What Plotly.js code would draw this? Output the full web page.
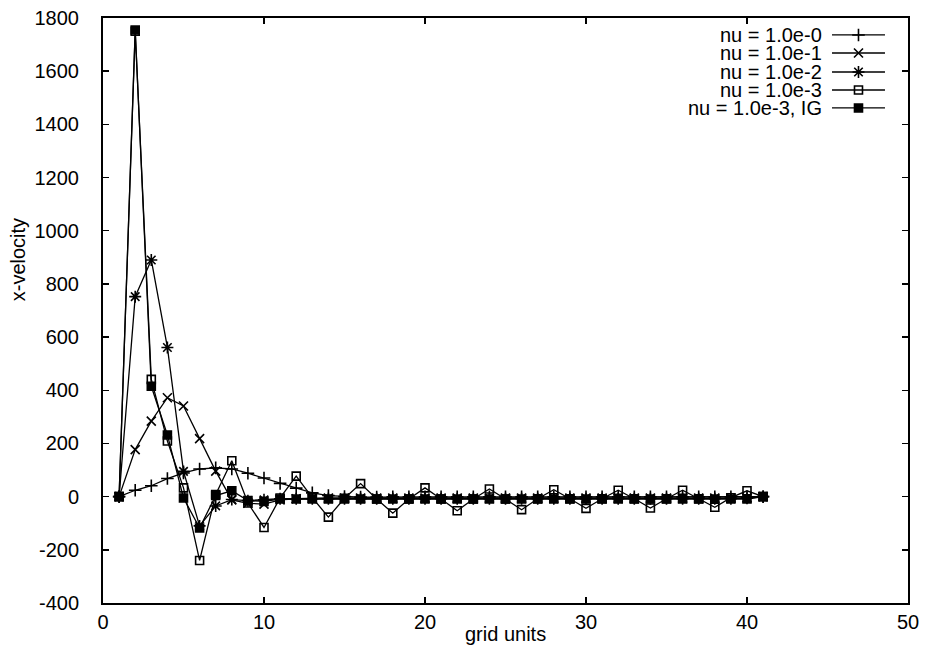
<!DOCTYPE html>
<html>
<head>
<meta charset="utf-8">
<script src="https://cdn.plot.ly/plotly-3.0.1.min.js"></script>
<style>html,body{margin:0;padding:0;background:#fff;}#chart{width:935px;height:651px;}</style>
</head>
<body>
<div id="chart"></div>
<script>
// ---- data ----
const gridUnits = [1,2,3,4,5,6,7,8,9,10,11,12,13,14,15,16,17,18,19,20,21,22,23,24,25,26,27,28,29,30,31,32,33,34,35,36,37,38,39,40,41];
const nu1e0  = [0,24,41,68,89,104,108,104,88,70,50,32,14,4,0,-2,-2,-1,-1,-1,-1,-1,-1,-1,-1,-1,-1,-1,-1,-1,-1,-1,-1,-1,-1,-1,-1,-1,-1,-1,0];
const nu1e1  = [0,177,284,372,341,218,96,-12,-25,-28,-12,-8,-6,-5,-5,-5,-5,-5,-5,-5,-5,-5,-5,-5,-5,-5,-5,-5,-5,-5,-5,-5,-5,-5,-5,-5,-5,-5,-5,-4,0];
const nu1e2  = [0,752,890,561,95,-110,-35,-11,-15,-12,-8,-8,-8,-8,-8,-8,-8,-8,-8,-8,-8,-8,-8,-8,-8,-8,-8,-8,-8,-8,-8,-8,-8,-8,-8,-8,-8,-8,-8,-6,0];
const nu1e3  = [0,1750,441,209,33,-240,8,135,-24,-116,-5,77,-4,-77,-6,49,-9,-62,-9,33,-9,-53,-9,29,-9,-49,-8,26,-8,-44,-8,24,-8,-43,-8,24,-8,-40,-4,22,0];
const nu1e3IG= [0,1755,415,232,-5,-118,4,22,-15,-18,-9,-9,-9,-9,-9,-9,-9,-9,-9,-9,-9,-9,-9,-9,-9,-9,-9,-9,-9,-9,-9,-9,-9,-9,-9,-9,-9,-9,-9,-9,0];
const seriesNames = ["nu = 1.0e-0","nu = 1.0e-1","nu = 1.0e-2","nu = 1.0e-3","nu = 1.0e-3, IG"];
const seriesValues = [nu1e0, nu1e1, nu1e2, nu1e3, nu1e3IG];
const xTickVals = [0,10,20,30,40,50];
const yTickVals = [-400,-200,0,200,400,600,800,1000,1200,1400,1600,1800];

// ---- styles ----
const FONT = "Liberation Sans, Arial, Helvetica, sans-serif";
const symbols = [
  {symbol:"cross-thin-open", size:9},
  {symbol:"x-thin-open", size:9},
  {symbol:"asterisk-open", size:10},
  {symbol:"square-open", size:8},
  {symbol:"square", size:8}
];

const traces = seriesValues.map((vals, i) => ({
  type: "scatter",
  mode: "lines+markers",
  name: seriesNames[i],
  x: gridUnits,
  y: vals,
  line: {color: "#000", width: 1.3},
  marker: {symbol: symbols[i].symbol, size: symbols[i].size, color: "#000",
           line: {color: "#000", width: 1.6}},
  showlegend: false,
  cliponaxis: false
}));

// ---- custom gnuplot-style key (text right-aligned, sample to the right) ----
const keyRows = [0.971, 0.9402, 0.9077, 0.8769, 0.8462];
const keyTextRight = 0.8944, keyLine0 = 0.9056, keyLine1 = 0.9714, keyMark = 0.9385;
const annotations = [];
const shapes = [];
seriesNames.forEach((nm, i) => {
  annotations.push({xref:"paper", yref:"paper", x:keyTextRight, y:keyRows[i], xanchor:"right", yanchor:"middle",
    text:nm, showarrow:false, borderpad:0, font:{family:FONT, size:20, color:"#000"}});
  shapes.push({type:"line", xref:"paper", yref:"paper", x0:keyLine0, x1:keyLine1, y0:keyRows[i], y1:keyRows[i],
    line:{color:"#000", width:1.3}});
  traces.push({type:"scatter", mode:"markers", x:[keyMark], y:[keyRows[i]], xaxis:"x2", yaxis:"y2",
    marker:{symbol:symbols[i].symbol, size:symbols[i].size, color:"#000", line:{color:"#000", width:1.6}},
    showlegend:false, hoverinfo:"skip", cliponaxis:false});
});

annotations.push({xref:"paper", yref:"paper", x:-0.106, y:0.587, xanchor:"center", yanchor:"middle",
  text:"x-velocity", textangle:-90, showarrow:false, font:{family:FONT, size:20, color:"#000"}});
annotations.push({xref:"paper", yref:"paper", x:0.5, y:-0.053, xanchor:"center", yanchor:"middle",
  text:"grid units", showarrow:false, font:{family:FONT, size:20, color:"#000"}});

const layout = {
  width: 935, height: 651,
  margin: {l:103, r:27, t:18, b:48, pad:0},
  paper_bgcolor: "#fff", plot_bgcolor: "#fff",
  font: {family: FONT, size: 20, color: "#000"},
  xaxis: {
    range: [0, 50], tickvals: xTickVals, ticktext: xTickVals.map(String),
    ticks: "inside", ticklen: 6, tickwidth: 1.5, tickcolor: "#000",
    showline: true, linecolor: "#000", linewidth: 2, mirror: "ticks",
    showgrid: false, zeroline: false,
    tickfont: {family: FONT, size: 20, color: "#000"}
  },
  yaxis: {
    range: [-400, 1800], tickvals: yTickVals, ticktext: yTickVals.map(String),
    ticks: "inside", ticklen: 6, tickwidth: 1.5, tickcolor: "#000",
    showline: true, linecolor: "#000", linewidth: 2, mirror: "ticks",
    showgrid: false, zeroline: false, ticklabelstandoff: 18,
    tickfont: {family: FONT, size: 20, color: "#000"}
  },
  xaxis2: {overlaying: "x", range: [0, 1], visible: false, fixedrange: true},
  yaxis2: {overlaying: "y", range: [0, 1], visible: false, fixedrange: true},
  shapes: shapes,
  annotations: annotations,
  showlegend: false
};

Plotly.newPlot("chart", traces, layout, {displayModeBar: false, staticPlot: true});
</script>
</body>
</html>
